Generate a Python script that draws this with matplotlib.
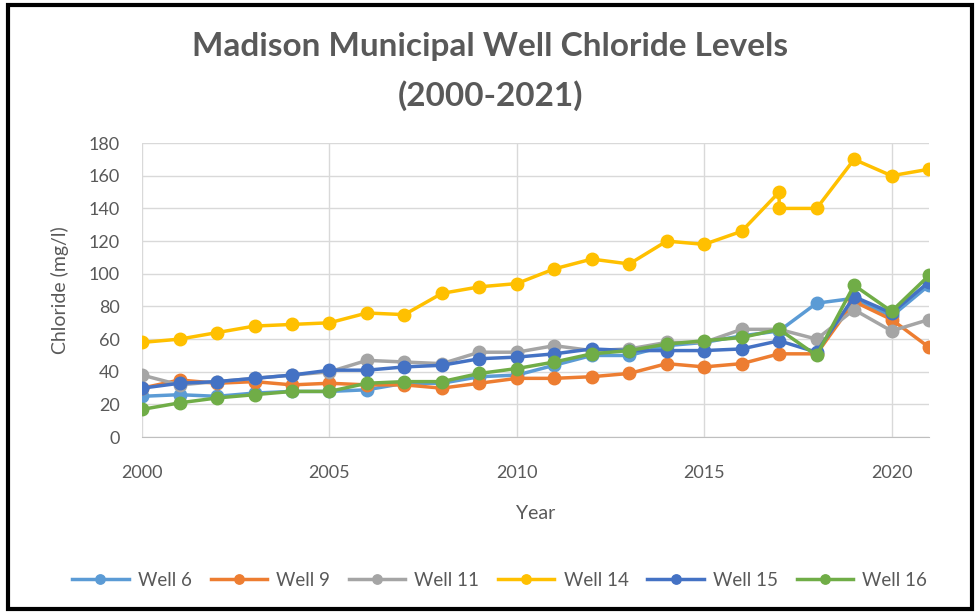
import matplotlib.pyplot as plt
from matplotlib.patches import Rectangle

# Chart data
years = [2000, 2001, 2002, 2003, 2004, 2005, 2006, 2007, 2008, 2009, 2010,
         2011, 2012, 2013, 2014, 2015, 2016, 2017, 2018, 2019, 2020, 2021]
# Well 14 has two readings plotted at 2017
years_w14 = [2000, 2001, 2002, 2003, 2004, 2005, 2006, 2007, 2008, 2009, 2010,
             2011, 2012, 2013, 2014, 2015, 2016, 2017, 2017, 2018, 2019, 2020, 2021]

well_6 = [25, 26, 25, 27, 28, 28, 29, 33, 33, 37, 38,
          44, 50, 50, 56, 58, 62, 65, 82, 85, 74, 93]
well_9 = [30, 35, 33, 34, 32, 33, 32, 32, 30, 33, 36,
          36, 37, 39, 45, 43, 45, 51, 51, 83, 72, 55]
well_11 = [38, 32, 34, 36, 38, 40, 47, 46, 45, 52, 52,
           56, 53, 54, 58, 58, 66, 66, 60, 78, 65, 72]
well_14 = [58, 60, 64, 68, 69, 70, 76, 75, 88, 92, 94,
           103, 109, 106, 120, 118, 126, 150, 140, 140, 170, 160, 164]
well_15 = [30, 33, 34, 36, 38, 41, 41, 43, 44, 48, 49,
           51, 54, 53, 53, 53, 54, 59, 52, 86, 76, 95]
well_16 = [17, 21, 24, 26, 28, 28, 33, 34, 34, 39, 42,
           46, 51, 53, 57, 59, 61, 66, 50, 93, 77, 99]

series = [
    ('Well 6', years, well_6, '#5B9BD5'),
    ('Well 9', years, well_9, '#ED7D31'),
    ('Well 11', years, well_11, '#A5A5A5'),
    ('Well 14', years_w14, well_14, '#FFC000'),
    ('Well 15', years, well_15, '#4472C4'),
    ('Well 16', years, well_16, '#70AD47'),
]

plt.rcParams['font.family'] = ['Lato', 'DejaVu Sans']
text_color = '#595959'

fig = plt.figure(figsize=(9.8, 6.14), dpi=100)
ax = fig.add_axes([0.145, 0.288, 0.803, 0.479])

for name, xs, ys, color in series:
    ax.plot(xs, ys, color=color, linewidth=2.5, marker='o', markersize=9,
            label=name)

ax.set_xlim(2000, 2021)
ax.set_ylim(0, 180)
ax.set_xticks([2000, 2005, 2010, 2015, 2020])
ax.set_yticks(range(0, 181, 20))
ax.grid(True, color='#d9d9d9', linewidth=1)
ax.set_axisbelow(True)
for side in ['top', 'right', 'left']:
    ax.spines[side].set_visible(False)
ax.spines['bottom'].set_color('#bfbfbf')
ax.tick_params(axis='y', length=0, labelsize=13, colors=text_color, pad=16)
ax.tick_params(axis='x', length=0, labelsize=13, colors=text_color, pad=20)
ax.set_xlabel('Year', fontsize=14, color=text_color, labelpad=17)
ax.set_ylabel('Chloride (mg/l)', fontsize=14, color=text_color, labelpad=14)

fig.text(0.5, 0.884, 'Madison Municipal Well Chloride Levels\n(2000-2021)',
         ha='center', va='center', fontsize=24, fontweight='bold',
         color=text_color, linespacing=1.75)

fig.legend(loc='center', bbox_to_anchor=(0.51, 0.055), ncol=6, frameon=False,
           fontsize=13.5, labelcolor=text_color, handlelength=3.0,
           columnspacing=1.0, handletextpad=0.5, markerscale=0.75)

# black frame around the chart box
fig.patches.append(Rectangle((0.008, 0.008), 0.984, 0.984, transform=fig.transFigure,
                             fill=False, edgecolor='black', linewidth=3))

fig.savefig('out.png', dpi=100)
